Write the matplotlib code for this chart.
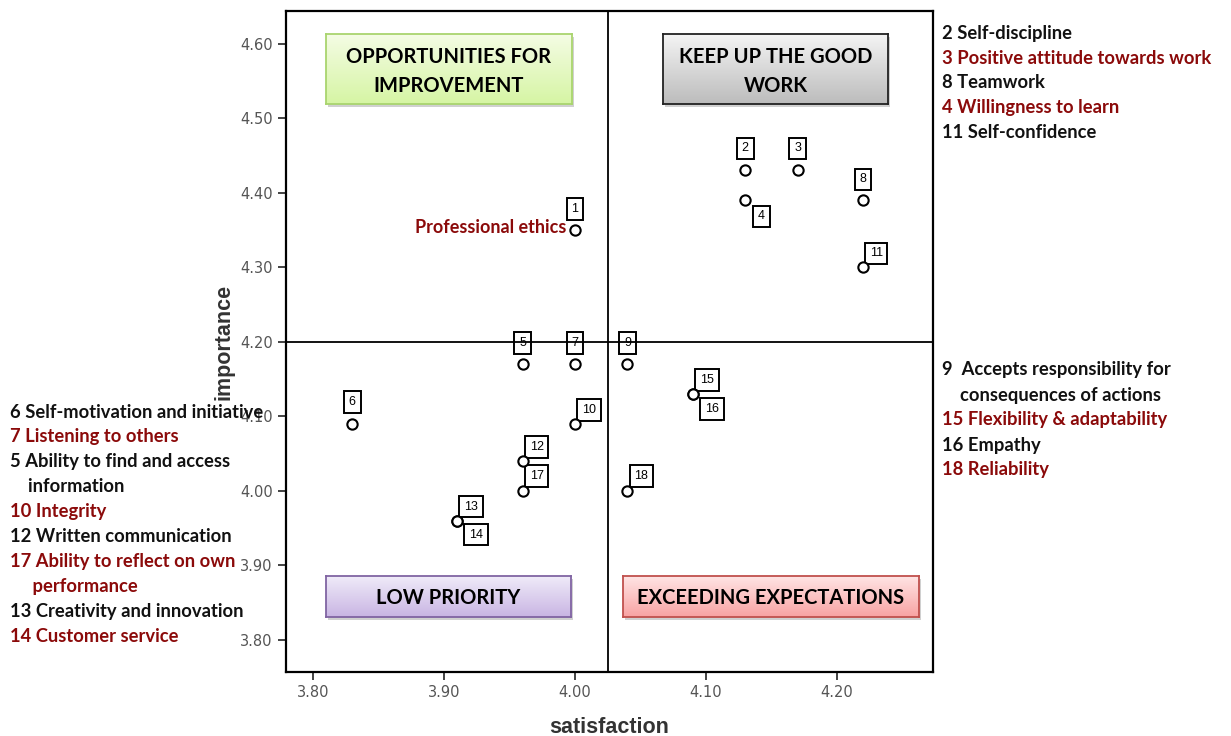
import matplotlib
matplotlib.use("Agg")
import matplotlib.pyplot as plt
import numpy as np

# ---------------- data ----------------
ids          = [1, 2, 3, 4, 5, 6, 7, 8, 9, 10, 11, 12, 13, 14, 15, 16, 17, 18]
satisfaction = [4.00, 4.13, 4.17, 4.13, 3.96, 3.83, 4.00, 4.22, 4.04, 4.00, 4.22, 3.96, 3.91, 3.91, 4.09, 4.09, 3.96, 4.04]
importance   = [4.35, 4.43, 4.43, 4.39, 4.17, 4.09, 4.17, 4.39, 4.17, 4.09, 4.30, 4.04, 3.96, 3.96, 4.13, 4.13, 4.00, 4.00]
mean_satisfaction = 4.025
mean_importance = 4.20

x_ticks = [3.80, 3.90, 4.00, 4.10, 4.20]
y_ticks = [3.80, 3.90, 4.00, 4.10, 4.20, 4.30, 4.40, 4.50, 4.60]

quadrant_titles = ["OPPORTUNITIES FOR\nIMPROVEMENT", "KEEP UP THE GOOD\nWORK",
                   "LOW PRIORITY", "EXCEEDING EXPECTATIONS"]

right_top_labels = ["2 Self-discipline", "3 Positive attitude towards work", "8 Teamwork",
                    "4 Willingness to learn", "11 Self-confidence"]
right_bottom_labels = ["9  Accepts responsibility for", "    consequences of actions",
                       "15 Flexibility & adaptability", "16 Empathy", "18 Reliability"]
left_labels = ["6 Self-motivation and initiative", "7 Listening to others",
               "5 Ability to find and access", "    information", "10 Integrity",
               "12 Written communication", "17 Ability to reflect on own",
               "     performance", "13 Creativity and innovation", "14 Customer service"]
right_top_colors = ["k", "r", "k", "r", "k"]
right_bottom_colors = ["k", "k", "r", "k", "r"]
left_colors = ["k", "r", "k", "k", "r", "k", "r", "r", "k", "r"]

# ---------------- layout / style ----------------
W, H = 1231, 736
DARKRED = "#8B0A0A"
cmap = {"k": "#111111", "r": DARKRED}
# label-box offsets in pixels (dx right, dy down) relative to each point
offsets = {1: (0, -21), 2: (0, -22), 3: (0, -22), 4: (16, 16), 5: (0, -21), 6: (0, -22),
           7: (0, -21), 8: (0, -21), 9: (0, -21), 10: (14, -14), 11: (13, -14),
           12: (14, -14), 13: (14, -14), 14: (19, 14), 15: (14, -14), 16: (19, 15),
           17: (14, -15), 18: (14, -15)}

fig = plt.figure(figsize=(W / 100, H / 100), dpi=100)
fig.patch.set_facecolor("white")

def fx(px):
    return px / W

def fy(py):
    return 1 - py / H

ax = fig.add_axes([fx(286), fy(672), fx(933) - fx(286), fy(11) - fy(672)])
ax.set_xlim(3.7794, 4.2733)
ax.set_ylim(3.757, 4.644)

ax.axvline(mean_satisfaction, color="black", lw=1.3, zorder=5)
ax.axhline(mean_importance, color="black", lw=1.3, zorder=5)

ax.scatter(satisfaction, importance, s=55, facecolors="white", edgecolors="black",
           linewidths=1.5, zorder=6)

for i, xv, yv in zip(ids, satisfaction, importance):
    dx, dy = offsets[i]
    ax.annotate(str(i), (xv, yv), xytext=(dx, -dy), textcoords="offset pixels",
                ha="center", va="center", fontsize=9, family="Liberation Sans",
                bbox=dict(boxstyle="square,pad=0.38", fc="white", ec="black", lw=1.4),
                zorder=4)

ax.annotate("Professional ethics", (satisfaction[0], importance[0]), xytext=(-9, 3),
            textcoords="offset pixels", ha="right", va="center", fontsize=13,
            family="Lato", fontweight="bold", color=DARKRED, zorder=7)

ax.set_xticks(x_ticks)
ax.set_xticklabels([f"{t:.2f}" for t in x_ticks])
ax.set_yticks(y_ticks)
ax.set_yticklabels([f"{t:.2f}" for t in y_ticks])
ax.tick_params(direction="out", length=6, width=1.2, colors="#222222",
               labelcolor="#555555", labelsize=10.5)
for s in ax.spines.values():
    s.set_linewidth(1.6)
ax.set_xlabel("satisfaction", fontsize=15.5, fontweight="bold", color="#333333",
              family="Liberation Sans", labelpad=12)
ax.set_ylabel("importance", fontsize=15.5, fontweight="bold", color="#333333",
              family="Liberation Sans", labelpad=4)

# ---------------- quadrant boxes ----------------
boxes = [
    (326, 34, 572, 104, "#f4fce4", "#d6f5a4", "#a9d46e"),
    (663, 34, 888, 104, "#f4f4f4", "#bcbcbc", "#222222"),
    (326, 576, 571, 617, "#f1ecf9", "#c8b5e3", "#8064a2"),
    (623, 576, 919, 617, "#ffe6e6", "#f8a3a3", "#c0504d"),
]
for (x0, y0, x1, y1, c0, c1, ec), title in zip(boxes, quadrant_titles):
    # shadow
    sh = fig.add_axes([fx(x0 + 2), fy(y1 + 3), fx(x1 - x0), (y1 - y0) / H])
    sh.set_facecolor("#d0d0d0")
    sh.set_xticks([]); sh.set_yticks([])
    for s in sh.spines.values():
        s.set_visible(False)
    bx = fig.add_axes([fx(x0), fy(y1), fx(x1 - x0), (y1 - y0) / H])
    a = np.array(matplotlib.colors.to_rgb(c0))
    b = np.array(matplotlib.colors.to_rgb(c1))
    t = np.linspace(0, 1, 64)[:, None]
    grad = (a * (1 - t) + b * t)[:, None, :]
    bx.imshow(grad, aspect="auto", extent=[0, 1, 0, 1], origin="upper")
    bx.set_xlim(0, 1); bx.set_ylim(0, 1)
    bx.set_xticks([]); bx.set_yticks([])
    for s in bx.spines.values():
        s.set_edgecolor(ec)
        s.set_linewidth(1.3)
    bx.text(0.5, 0.47, title, ha="center", va="center", fontsize=14.5, family="Lato",
            fontweight="bold", color="black", linespacing=1.55)

# ---------------- side label lists ----------------
FS = 13.2
for k, (txt, c) in enumerate(zip(right_top_labels, right_top_colors)):
    fig.text(fx(942), fy(33 + 25 * k), txt, ha="left", va="center", fontsize=FS,
             family="Lato", fontweight="bold", color=cmap[c])
for k, (txt, c) in enumerate(zip(right_bottom_labels, right_bottom_colors)):
    fig.text(fx(942), fy(370 + 25 * k), txt, ha="left", va="center", fontsize=FS,
             family="Lato", fontweight="bold", color=cmap[c])
for k, (txt, c) in enumerate(zip(left_labels, left_colors)):
    fig.text(fx(10), fy(412 + 24.9 * k), txt, ha="left", va="center", fontsize=FS,
             family="Lato", fontweight="bold", color=cmap[c], zorder=10)

fig.savefig("out.png", dpi=100)
